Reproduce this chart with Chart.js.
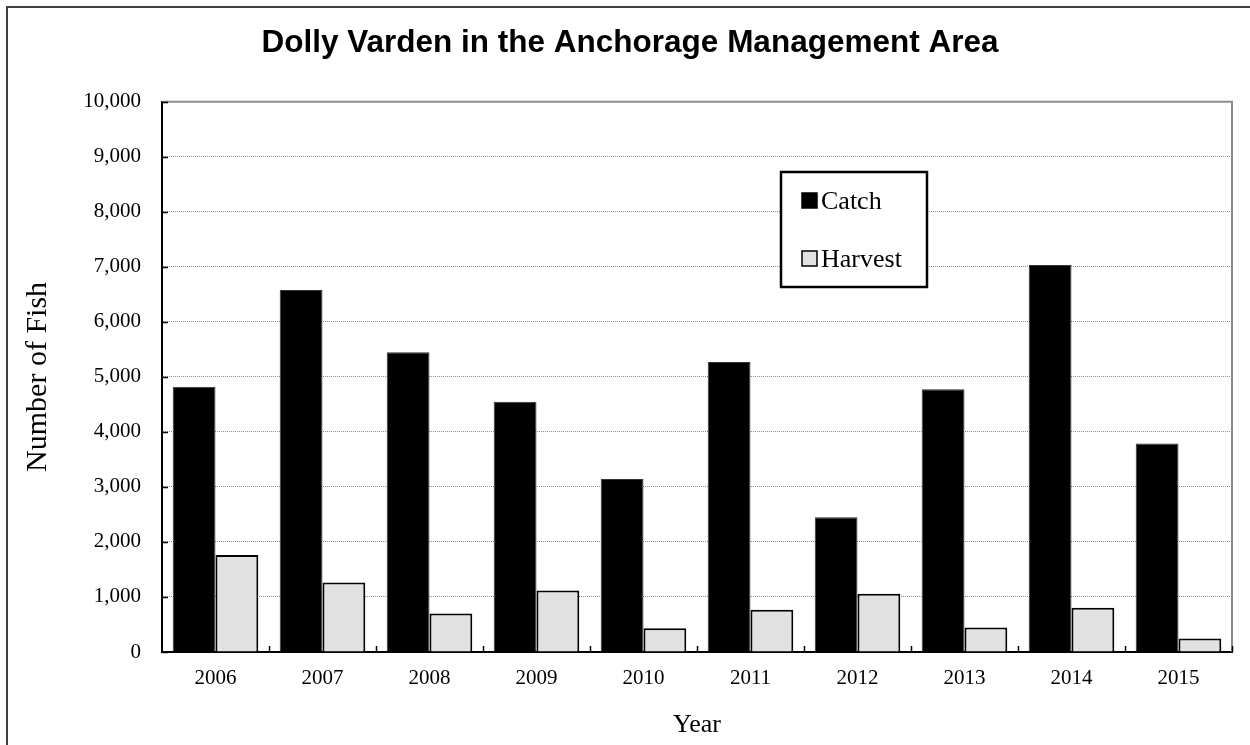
<!DOCTYPE html>
<html>
<head>
<meta charset="utf-8">
<script src="https://cdn.jsdelivr.net/npm/chart.js@4"></script>
<style>
  body { margin: 0; background: #fff; }
  #wrap { width: 1250px; height: 745px; }
</style>
</head>
<body>
<div id="wrap"><canvas id="myChart" width="1250" height="745"></canvas></div>
<script>
// data
var years = ["2006", "2007", "2008", "2009", "2010", "2011", "2012", "2013", "2014", "2015"];
var catchValues = [4820, 6580, 5450, 4550, 3145, 5270, 2450, 4775, 7035, 3790];
var harvestValues = [1765, 1265, 700, 1120, 430, 770, 1060, 445, 805, 245];
var yTicks = [0, 1000, 2000, 3000, 4000, 5000, 6000, 7000, 8000, 9000, 10000];

// outer frame, plot frame and small inner tick marks
var framePlugin = {
  id: "frame",
  beforeDraw: function(chart) {
    var ctx = chart.ctx;
    ctx.save();
    ctx.strokeStyle = "#404040";
    ctx.lineWidth = 2;
    ctx.beginPath();
    ctx.moveTo(7, 760);
    ctx.lineTo(7, 7);
    ctx.lineTo(1260, 7);
    ctx.stroke();
    ctx.restore();
  },
  afterDatasetsDraw: function(chart) {
    var ctx = chart.ctx;
    var a = chart.chartArea;
    var x = chart.scales.x, y = chart.scales.y;
    ctx.save();
    ctx.strokeStyle = "#8c8c8c";
    ctx.lineWidth = 2;
    ctx.beginPath();
    ctx.moveTo(a.left, a.top);
    ctx.lineTo(a.right, a.top);
    ctx.lineTo(a.right, a.bottom);
    ctx.stroke();
    // inner ticks
    ctx.strokeStyle = "#000";
    ctx.lineWidth = 1.5;
    ctx.beginPath();
    yTicks.forEach(function(v) {
      var py = Math.round(y.getPixelForValue(v)) + 0.5;
      ctx.moveTo(a.left, py);
      ctx.lineTo(a.left + 6, py);
    });
    var half = (x.getPixelForValue(1) - x.getPixelForValue(0)) / 2;
    for (var i = 1; i <= years.length; i++) {
      var px = Math.round(x.getPixelForValue(i - 1) + half) + 0.5;
      ctx.moveTo(px, a.bottom);
      ctx.lineTo(px, a.bottom - 6);
    }
    ctx.stroke();
    ctx.restore();
  }
};

// boxed legend inside the plot
var legendBox = {
  id: "legendBox",
  afterDraw: function(chart) {
    var ctx = chart.ctx;
    var ds = chart.data.datasets;
    ctx.save();
    ctx.fillStyle = "#fff";
    ctx.fillRect(781, 172, 146, 115);
    ctx.strokeStyle = "#000";
    ctx.lineWidth = 2.5;
    ctx.strokeRect(781, 172, 146, 115);
    ctx.font = "26px 'Liberation Serif', 'Times New Roman', serif";
    ctx.textBaseline = "alphabetic";
    var rows = [209, 267];
    ds.forEach(function(d, i) {
      ctx.fillStyle = d.backgroundColor;
      ctx.fillRect(802, rows[i] - 16, 15, 15);
      ctx.strokeStyle = "#000";
      ctx.lineWidth = 1.5;
      ctx.strokeRect(802, rows[i] - 16, 15, 15);
      ctx.fillStyle = "#000";
      ctx.fillText(d.label, 821, rows[i]);
    });
    ctx.restore();
  }
};

new Chart("myChart", {
  type: "bar",
  data: {
    labels: years,
    datasets: [{
      label: "Catch",
      data: catchValues,
      backgroundColor: "#000000",
      borderColor: "#333333",
      borderWidth: 1,
      categoryPercentage: 0.8,
      barPercentage: 1.0
    }, {
      label: "Harvest",
      data: harvestValues,
      backgroundColor: "#e1e1e1",
      borderColor: "#000000",
      borderWidth: 2,
      categoryPercentage: 0.8,
      barPercentage: 1.0
    }]
  },
  options: {
    responsive: false,
    animation: false,
    layout: { padding: { left: 28, right: 18, top: 0, bottom: 0 } },
    plugins: {
      legend: { display: false },
      tooltip: { enabled: false },
      title: {
        display: true,
        text: "Dolly Varden in the Anchorage Management Area",
        color: "#000",
        font: { family: "'Liberation Sans', Arial, sans-serif", size: 31.5, weight: "bold", lineHeight: 1.2 },
        padding: { top: 24, bottom: 40 }
      }
    },
    scales: {
      x: {
        grid: { display: false, drawTicks: false },
        border: { display: true, color: "#000", width: 2 },
        ticks: {
          color: "#000",
          padding: 14,
          font: { family: "'Liberation Serif', 'Times New Roman', serif", size: 21 }
        },
        title: {
          display: true,
          text: "Year",
          color: "#000",
          font: { family: "'Liberation Serif', 'Times New Roman', serif", size: 26, lineHeight: 1.2 },
          padding: { top: 0, bottom: 4 }
        },
        afterFit: function(scale) { scale.height = 93; }
      },
      y: {
        min: 0,
        max: 10000,
        grid: { color: "#8c8c8c", lineWidth: 1, drawTicks: false },
        border: { display: true, color: "#000", width: 2, dash: [1, 1] },
        ticks: {
          stepSize: 1000,
          color: "#000",
          padding: 21,
          font: { family: "'Liberation Serif', 'Times New Roman', serif", size: 21 },
          callback: function(v) { return v.toLocaleString("en-US"); }
        },
        title: {
          display: true,
          text: "Number of Fish",
          color: "#000",
          font: { family: "'Liberation Serif', 'Times New Roman', serif", size: 30, lineHeight: 1.2 },
          padding: { top: -8, bottom: 0 }
        },
        afterFit: function(scale) { scale.width = 134; }
      }
    }
  },
  plugins: [framePlugin, legendBox]
});
</script>
</body>
</html>
